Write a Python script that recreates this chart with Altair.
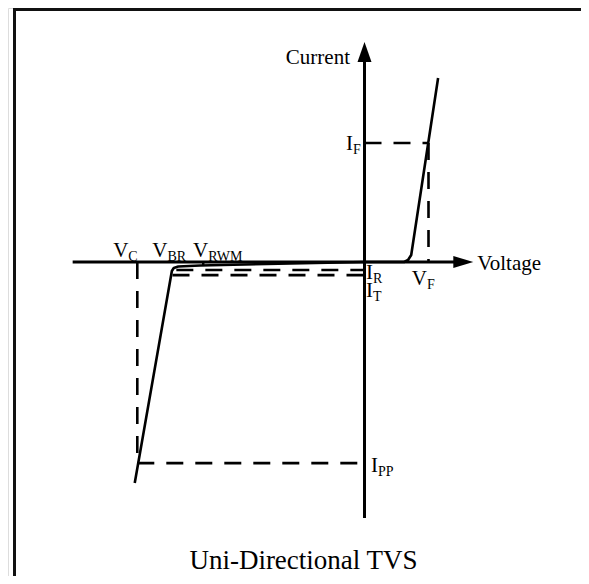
import altair as alt
import pandas as pd

# ---- characteristic values (arbitrary units: voltage / current) ----
V_F, I_F = 1.0, 1.0
V_C, I_PP = -3.55, -1.69
V_BR = -3.0
V_RWM = -2.52
I_R, I_T = -0.067, -0.11

# forward branch of the curve
forward_v = [0.0, 0.62, 0.68, 0.73, 1.15]
forward_i = [0.0, 0.0, 0.017, 0.059, 1.546]
# reverse (leakage + breakdown) branch of the curve
reverse_v = [0.0, -2.57, -2.91, -2.98, -3.01, -3.59]
reverse_i = [0.0, -0.029, -0.038, -0.050, -0.076, -1.857]

# axis extents
axis_v = [-4.56, 1.45]
axis_i = [-2.151, 1.70]
arrow_v_tip = 1.70   # voltage arrow tip
arrow_i_tip = 1.849  # current arrow tip

# ---- layout: px = 364.5 + 64*V, py = 262 - 119*I (page pixels) ----
W, H = 573, 568
X0, KX = 364.5, 64.0
Y0, KY = 262.0, 119.0
xdom = [(8 - X0) / KX, (8 + W - X0) / KX]
ydom = [(Y0 - (8 + H)) / KY, (Y0 - 8) / KY]
xs = alt.Scale(domain=xdom, nice=False, zero=False)
ys = alt.Scale(domain=ydom, nice=False, zero=False)
FONT = "Liberation Serif"

def X(f="x"):
    return alt.X(f"{f}:Q", scale=xs, axis=None)

def Y(f="y"):
    return alt.Y(f"{f}:Q", scale=ys, axis=None)

# curve
curve = pd.DataFrame({
    "x": forward_v + reverse_v,
    "y": forward_i + reverse_i,
    "branch": ["f"] * len(forward_v) + ["r"] * len(reverse_v),
    "o": list(range(len(forward_v))) + list(range(len(reverse_v))),
})
curve_layer = alt.Chart(curve).mark_line(
    color="black", strokeWidth=2.6, strokeJoin="round", clip=False
).encode(x=X(), y=Y(), detail="branch:N", order="o:Q")

# axes
axes = pd.DataFrame({
    "x": [axis_v[0], 0.0], "x2": [axis_v[1], 0.0],
    "y": [0.0, axis_i[0]], "y2": [0.0, axis_i[1]],
})
axes_layer = alt.Chart(axes).mark_rule(color="black", strokeWidth=3).encode(
    x=X(), x2="x2:Q", y=Y(), y2="y2:Q")

# V_RWM tick
tick = pd.DataFrame({"x": [V_RWM], "x2": [V_RWM], "y": [0.0], "y2": [-0.034]})
tick_layer = alt.Chart(tick).mark_rule(color="black", strokeWidth=2.5).encode(
    x=X(), x2="x2:Q", y=Y(), y2="y2:Q")

# dashed guides
dashed = pd.DataFrame({
    "x":  [V_C, V_C, 0.0, V_F, -2.94, -3.0],
    "x2": [V_C, 0.0, V_F, V_F, 0.0, 0.0],
    "y":  [0.0, I_PP, I_F, I_F, I_R, I_T],
    "y2": [I_PP, I_PP, I_F, 0.0, I_R, I_T],
})
dashed_layer = alt.Chart(dashed).mark_rule(
    color="black", strokeWidth=2.6, strokeDash=[17, 12]).encode(
    x=X(), x2="x2:Q", y=Y(), y2="y2:Q")

# arrowheads
arrow_h = pd.DataFrame({"x": [arrow_v_tip - 10 / KX], "y": [0.0]})
arrow_h_layer = alt.Chart(arrow_h).mark_point(
    shape="M -1 -0.6 L 1 0 L -1 0.6 Z", size=400, filled=True, color="black",
    opacity=1, strokeWidth=0).encode(x=X(), y=Y())
arrow_v = pd.DataFrame({"x": [0.0], "y": [arrow_i_tip - 10 / KY]})
arrow_v_layer = alt.Chart(arrow_v).mark_point(
    shape="M -0.7 1 L 0 -1 L 0.7 1 Z", size=400, filled=True, color="black",
    opacity=1, strokeWidth=0).encode(x=X(), y=Y())

# subscripted labels: (main, sub, x, y, dx, dy)
labels = [
    ("V", "C", V_C, 0.0, -9, -5),
    ("V", "BR", V_BR, 0.0, -5, -5),
    ("V", "RWM", V_RWM, 0.0, 5, -5),
    ("I", "R", 0.0, I_R, 8.5, 9),
    ("I", "T", 0.0, I_T, 8.5, 22),
    ("V", "F", V_F, 0.0, -1.5, 23),
    ("I", "F", 0.0, I_F, -11.5, 7),
    ("I", "PP", 0.0, I_PP, 13.5, 9),
]
label_layers = []
for main, sub, lx, ly, dx, dy in labels:
    d = pd.DataFrame({"x": [lx], "y": [ly], "m": [main], "s": [sub]})
    label_layers.append(alt.Chart(d).mark_text(
        font=FONT, fontSize=21, align="right", baseline="alphabetic",
        dx=dx, dy=dy, color="black").encode(x=X(), y=Y(), text="m:N"))
    label_layers.append(alt.Chart(d).mark_text(
        font=FONT, fontSize=14, align="left", baseline="alphabetic",
        dx=dx, dy=dy + 4, color="black").encode(x=X(), y=Y(), text="s:N"))

# axis names
cur = pd.DataFrame({"x": [0.0], "y": [arrow_i_tip], "t": ["Current"]})
cur_layer = alt.Chart(cur).mark_text(
    font=FONT, fontSize=21, align="right", baseline="alphabetic",
    dx=-14.5, dy=22, color="black").encode(x=X(), y=Y(), text="t:N")
vol = pd.DataFrame({"x": [arrow_v_tip], "y": [0.0], "t": ["Voltage"]})
vol_layer = alt.Chart(vol).mark_text(
    font=FONT, fontSize=21, align="left", baseline="alphabetic",
    dx=4, dy=8, color="black").encode(x=X(), y=Y(), text="t:N")

# title text
title = pd.DataFrame({"t": ["Uni-Directional TVS"]})
title_layer = alt.Chart(title).mark_text(
    font=FONT, fontSize=27, align="center", baseline="alphabetic",
    color="black").encode(x=alt.value(295.5), y=alt.value(H - 7), text="t:N")

# frame bars (left and top), drawn as thin filled rectangles
frame_left = alt.Chart(title).mark_rect(color="#111").encode(
    x=alt.value(5), x2=alt.value(8), y=alt.value(0), y2=alt.value(H))
frame_top = alt.Chart(title).mark_rect(color="#111").encode(
    x=alt.value(5), x2=alt.value(W), y=alt.value(0), y2=alt.value(3))

chart = alt.layer(
    frame_left, frame_top, dashed_layer, axes_layer, tick_layer, curve_layer,
    arrow_h_layer, arrow_v_layer, cur_layer, vol_layer, title_layer, *label_layers
).properties(
    width=W, height=H, autosize=alt.AutoSizeParams(type="none"), padding=0
).configure_view(stroke=None).configure(background="white")

chart.save("out.html", embed_options={"renderer": "svg", "actions": False})
